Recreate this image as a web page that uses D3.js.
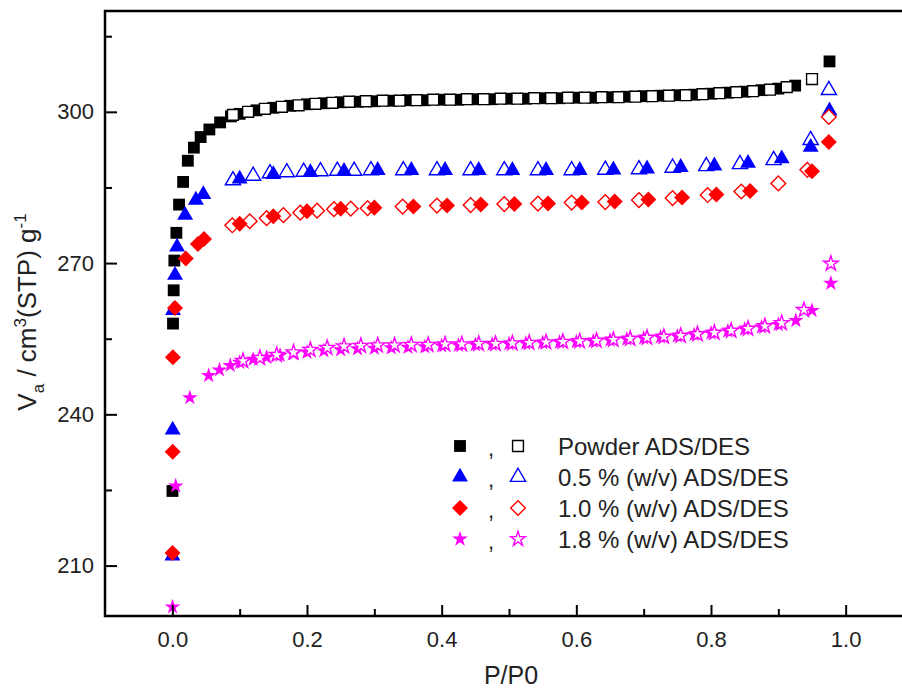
<!DOCTYPE html>
<html>
<head>
<meta charset="utf-8">
<script src="https://cdnjs.cloudflare.com/ajax/libs/d3/7.8.5/d3.min.js"></script>
<style>
body { margin: 0; background: #fff; }
svg { display: block; font-family: Arial, "Liberation Sans", sans-serif; }
</style>
</head>
<body>
<div id="chart"></div>
<script>
// isotherm points: [P/P0, Va]
var powderAds = [[0.0002, 224.8], [0.001, 258.0], [0.002, 264.6], [0.003, 270.5], [0.006, 276.0], [0.010, 281.6],
    [0.016, 286.1], [0.023, 290.3], [0.032, 292.9], [0.042, 295.0], [0.055, 296.5], [0.071, 297.9], [0.087, 299.1],
    [0.100, 299.6], [0.125, 300.3], [0.150, 300.8], [0.175, 301.2], [0.200, 301.5], [0.225, 301.7], [0.250, 301.9],
    [0.275, 302.0], [0.300, 302.1], [0.325, 302.2], [0.350, 302.3], [0.375, 302.3], [0.400, 302.4], [0.425, 302.4],
    [0.450, 302.5], [0.475, 302.5], [0.500, 302.6], [0.525, 302.6], [0.550, 302.7], [0.575, 302.7], [0.600, 302.8],
    [0.625, 302.8], [0.650, 302.9], [0.675, 303.0], [0.700, 303.1], [0.725, 303.2], [0.750, 303.3], [0.775, 303.4],
    [0.800, 303.6], [0.825, 303.8], [0.850, 304.0], [0.875, 304.3], [0.900, 304.6], [0.925, 305.2], [0.976, 310.0]];
var powderDes = [[0.0900, 299.4], [0.1125, 300.0], [0.1375, 300.6], [0.1625, 301.0], [0.1875, 301.3], [0.2125, 301.6],
    [0.2375, 301.8], [0.2625, 302.0], [0.2875, 302.1], [0.3125, 302.2], [0.3375, 302.2], [0.3625, 302.3], [0.3875, 302.4],
    [0.4125, 302.4], [0.4375, 302.5], [0.4625, 302.5], [0.4875, 302.6], [0.5125, 302.6], [0.5375, 302.7], [0.5625, 302.7],
    [0.5875, 302.8], [0.6125, 302.8], [0.6375, 302.9], [0.6625, 302.9], [0.6875, 303.0], [0.7125, 303.1], [0.7375, 303.2],
    [0.7625, 303.3], [0.7875, 303.5], [0.8125, 303.7], [0.8375, 303.9], [0.8625, 304.1], [0.8875, 304.4], [0.9125, 304.9],
    [0.9500, 306.5]];

var halfAds = [[0.0002, 211.9], [0.0005, 236.9], [0.001, 260.6], [0.004, 267.6], [0.007, 273.2], [0.019, 279.5],
    [0.035, 282.5], [0.046, 283.6], [0.100, 286.7], [0.150, 287.6], [0.205, 288.0], [0.255, 288.2], [0.305, 288.4],
    [0.355, 288.4], [0.405, 288.4], [0.455, 288.4], [0.505, 288.4], [0.555, 288.4], [0.605, 288.4], [0.655, 288.5],
    [0.705, 288.7], [0.755, 289.0], [0.805, 289.3], [0.855, 289.8], [0.905, 290.7], [0.948, 293.0], [0.976, 300.2]];
var halfDes = [[0.090, 286.4], [0.120, 287.3], [0.145, 287.8], [0.170, 288.0], [0.195, 288.1], [0.220, 288.2],
    [0.245, 288.3], [0.270, 288.3], [0.295, 288.4], [0.343, 288.4], [0.393, 288.4], [0.443, 288.4], [0.493, 288.4],
    [0.543, 288.4], [0.593, 288.4], [0.643, 288.5], [0.693, 288.6], [0.743, 288.9], [0.793, 289.2], [0.843, 289.6],
    [0.893, 290.4], [0.948, 294.4], [0.975, 304.3]];

var oneAds = [[0.0003, 212.5], [0.0005, 232.6], [0.0008, 251.3], [0.004, 261.1], [0.020, 270.9], [0.038, 273.8],
    [0.047, 274.8], [0.100, 277.8], [0.150, 279.3], [0.200, 280.3], [0.250, 280.8], [0.300, 281.0], [0.358, 281.2],
    [0.408, 281.4], [0.458, 281.6], [0.508, 281.7], [0.558, 281.8], [0.608, 282.0], [0.657, 282.2], [0.707, 282.6],
    [0.757, 283.0], [0.808, 283.6], [0.858, 284.3], [0.950, 288.2], [0.975, 294.0]];
var oneDes = [[0.089, 277.5], [0.115, 278.3], [0.140, 278.9], [0.165, 279.5], [0.190, 280.0], [0.215, 280.4],
    [0.240, 280.7], [0.265, 280.8], [0.290, 280.9], [0.342, 281.2], [0.393, 281.4], [0.443, 281.5], [0.493, 281.7],
    [0.543, 281.8], [0.593, 282.0], [0.643, 282.1], [0.693, 282.5], [0.743, 282.9], [0.795, 283.5], [0.845, 284.2],
    [0.900, 285.8], [0.943, 288.5], [0.975, 299.0]];

var eightAds = [[0.0003, 201.8], [0.005, 225.8], [0.026, 243.3], [0.054, 247.7], [0.070, 248.8], [0.086, 249.7],
    [0.100, 250.3], [0.120, 250.9], [0.140, 251.3], [0.160, 251.7], [0.180, 252.0], [0.200, 252.3], [0.225, 252.6],
    [0.250, 252.8], [0.275, 253.0], [0.300, 253.1], [0.325, 253.2], [0.350, 253.3], [0.375, 253.4], [0.400, 253.6],
    [0.425, 253.7], [0.450, 253.8], [0.475, 253.9], [0.500, 254.0], [0.525, 254.1], [0.550, 254.2], [0.575, 254.3],
    [0.600, 254.4], [0.625, 254.5], [0.650, 254.7], [0.675, 254.9], [0.700, 255.1], [0.725, 255.3], [0.750, 255.5],
    [0.775, 255.8], [0.800, 256.1], [0.825, 256.5], [0.850, 256.9], [0.875, 257.3], [0.900, 257.8], [0.926, 258.6],
    [0.950, 260.6], [0.978, 266.0]];
var eightDes = [[0.105, 250.6], [0.130, 251.2], [0.155, 251.8], [0.180, 252.3], [0.205, 252.8], [0.230, 253.2],
    [0.255, 253.5], [0.280, 253.6], [0.305, 253.7], [0.330, 253.7], [0.355, 253.8], [0.380, 253.8], [0.405, 253.9],
    [0.430, 253.9], [0.455, 254.0], [0.480, 254.0], [0.505, 254.1], [0.530, 254.2], [0.555, 254.3], [0.580, 254.4],
    [0.605, 254.5], [0.630, 254.6], [0.655, 254.8], [0.680, 255.0], [0.705, 255.2], [0.730, 255.4], [0.755, 255.6],
    [0.780, 255.9], [0.805, 256.2], [0.830, 256.6], [0.855, 257.0], [0.880, 257.5], [0.905, 258.1], [0.938, 260.7],
    [0.978, 269.9]];

var legendLabels = ["Powder ADS/DES", "0.5 % (w/v) ADS/DES", "1.0 % (w/v) ADS/DES", "1.8 % (w/v) ADS/DES"];
var xTicks = [0, 0.2, 0.4, 0.6, 0.8, 1.0];
var xMinorTicks = [0.1, 0.3, 0.5, 0.7, 0.9];
var yTicks = [210, 240, 270, 300];
var yMinorTicks = [225, 255, 285, 315];

var width = 902, height = 693;
var plot = { left: 105, right: 913, top: 11, bottom: 616 };

var svg = d3.select("#chart")
    .append("svg")
    .attr("width", width)
    .attr("height", height);

var x = d3.scaleLinear().domain([-0.1, 1.1]).range([plot.left, plot.right]);
var y = d3.scaleLinear().domain([200, 320]).range([plot.bottom, plot.top]);

// series styling, one entry per sample (openOnTop: which of ADS/DES sits in front)
var groups = [
    { ads: powderAds, des: powderDes, color: "#000000", shape: "square", openOnTop: true },
    { ads: halfAds, des: halfDes, color: "#0000ff", shape: "triangle", openOnTop: false },
    { ads: oneAds, des: oneDes, color: "#ff0000", shape: "diamond", openOnTop: false },
    { ads: eightAds, des: eightDes, color: "#ff00ff", shape: "star", openOnTop: true }
];

function symbolPath(shape, open) {
    var gen = d3.symbol();
    if (shape == "square") gen.type(d3.symbolSquare).size(open ? 118 : 140);
    if (shape == "triangle") gen.type(d3.symbolTriangle).size(open ? 100 : 110);
    if (shape == "diamond") gen.type(d3.symbolSquare).size(open ? 108 : 128);
    if (shape == "star") gen.type(d3.symbolStar).size(open ? 68 : 76);
    return gen();
}

function drawMarks(g, data, grp, open) {
    g.selectAll(null)
        .data(data)
        .enter().append("path")
        .attr("d", symbolPath(grp.shape, open))
        .attr("transform", function (d) {
            return "translate(" + x(d[0]) + "," + y(d[1]) + ")" + (grp.shape == "diamond" ? " rotate(45)" : "");
        })
        .attr("fill", open ? "#ffffff" : grp.color)
        .attr("stroke", open ? grp.color : "none")
        .attr("stroke-width", open ? 1.4 : 0);
}

var marks = svg.append("g");
groups.forEach(function (grp) {
    if (grp.openOnTop) {
        drawMarks(marks.append("g"), grp.ads, grp, false);
        drawMarks(marks.append("g"), grp.des, grp, true);
    } else {
        drawMarks(marks.append("g"), grp.des, grp, true);
        drawMarks(marks.append("g"), grp.ads, grp, false);
    }
});

// frame + axes (ticks point inward)
var axisG = svg.append("g");
axisG.append("rect")
    .attr("x", plot.left).attr("y", plot.top)
    .attr("width", plot.right - plot.left).attr("height", plot.bottom - plot.top)
    .attr("fill", "none").attr("stroke", "#000").attr("stroke-width", 2.5);

var xAxis = axisG.append("g")
    .attr("transform", "translate(0," + plot.bottom + ")")
    .call(d3.axisBottom(x).tickValues(xTicks).tickSize(-11).tickPadding(15).tickFormat(d3.format(".1f")));
var xMinor = axisG.append("g")
    .attr("transform", "translate(0," + plot.bottom + ")")
    .call(d3.axisBottom(x).tickValues(xMinorTicks).tickSize(-7).tickFormat(""));
var yAxis = axisG.append("g")
    .attr("transform", "translate(" + plot.left + ",0)")
    .call(d3.axisLeft(y).tickValues(yTicks).tickSize(-12).tickPadding(11));
var yMinor = axisG.append("g")
    .attr("transform", "translate(" + plot.left + ",0)")
    .call(d3.axisLeft(y).tickValues(yMinorTicks).tickSize(-7).tickFormat(""));

axisG.selectAll(".domain").remove();
axisG.selectAll(".tick line").attr("stroke", "#000").attr("stroke-width", 2);
axisG.selectAll(".tick text")
    .attr("fill", "#222")
    .style("font-size", "22px")
    .style("font-family", "Arial, 'Liberation Sans', sans-serif");
xAxis.selectAll(".tick text").attr("dy", "0.71em");

// axis titles
svg.append("text")
    .attr("x", 511)
    .attr("y", 684)
    .attr("text-anchor", "middle")
    .attr("fill", "#222")
    .style("font-size", "25px")
    .text("P/P0");

var yTitle = svg.append("text")
    .attr("transform", "translate(36,312) rotate(-90)")
    .attr("text-anchor", "middle")
    .attr("fill", "#222")
    .style("font-size", "26px");
yTitle.append("tspan").text("V");
yTitle.append("tspan").attr("dy", 8).style("font-size", "17px").text("a");
yTitle.append("tspan").attr("dy", -8).text(" / cm");
yTitle.append("tspan").attr("dy", -10).style("font-size", "17px").text("3");
yTitle.append("tspan").attr("dy", 10).text("(STP) g");
yTitle.append("tspan").attr("dy", -10).style("font-size", "17px").text("-1");

// legend
var legend = svg.append("g");
groups.forEach(function (grp, i) {
    var cy = 446 + i * 31;
    var row = legend.append("g");
    row.append("path")
        .attr("d", symbolPath(grp.shape, false))
        .attr("transform", "translate(460," + cy + ")" + (grp.shape == "diamond" ? " rotate(45)" : ""))
        .attr("fill", grp.color);
    row.append("text")
        .attr("x", 488).attr("y", cy + 10)
        .attr("fill", "#222")
        .style("font-size", "22px")
        .text(",");
    row.append("path")
        .attr("d", symbolPath(grp.shape, true))
        .attr("transform", "translate(518," + cy + ")" + (grp.shape == "diamond" ? " rotate(45)" : ""))
        .attr("fill", "#fff")
        .attr("stroke", grp.color)
        .attr("stroke-width", 1.4);
    row.append("text")
        .attr("x", 558).attr("y", cy + 9)
        .attr("fill", "#222")
        .style("font-size", "24px")
        .text(legendLabels[i]);
});
</script>
</body>
</html>
